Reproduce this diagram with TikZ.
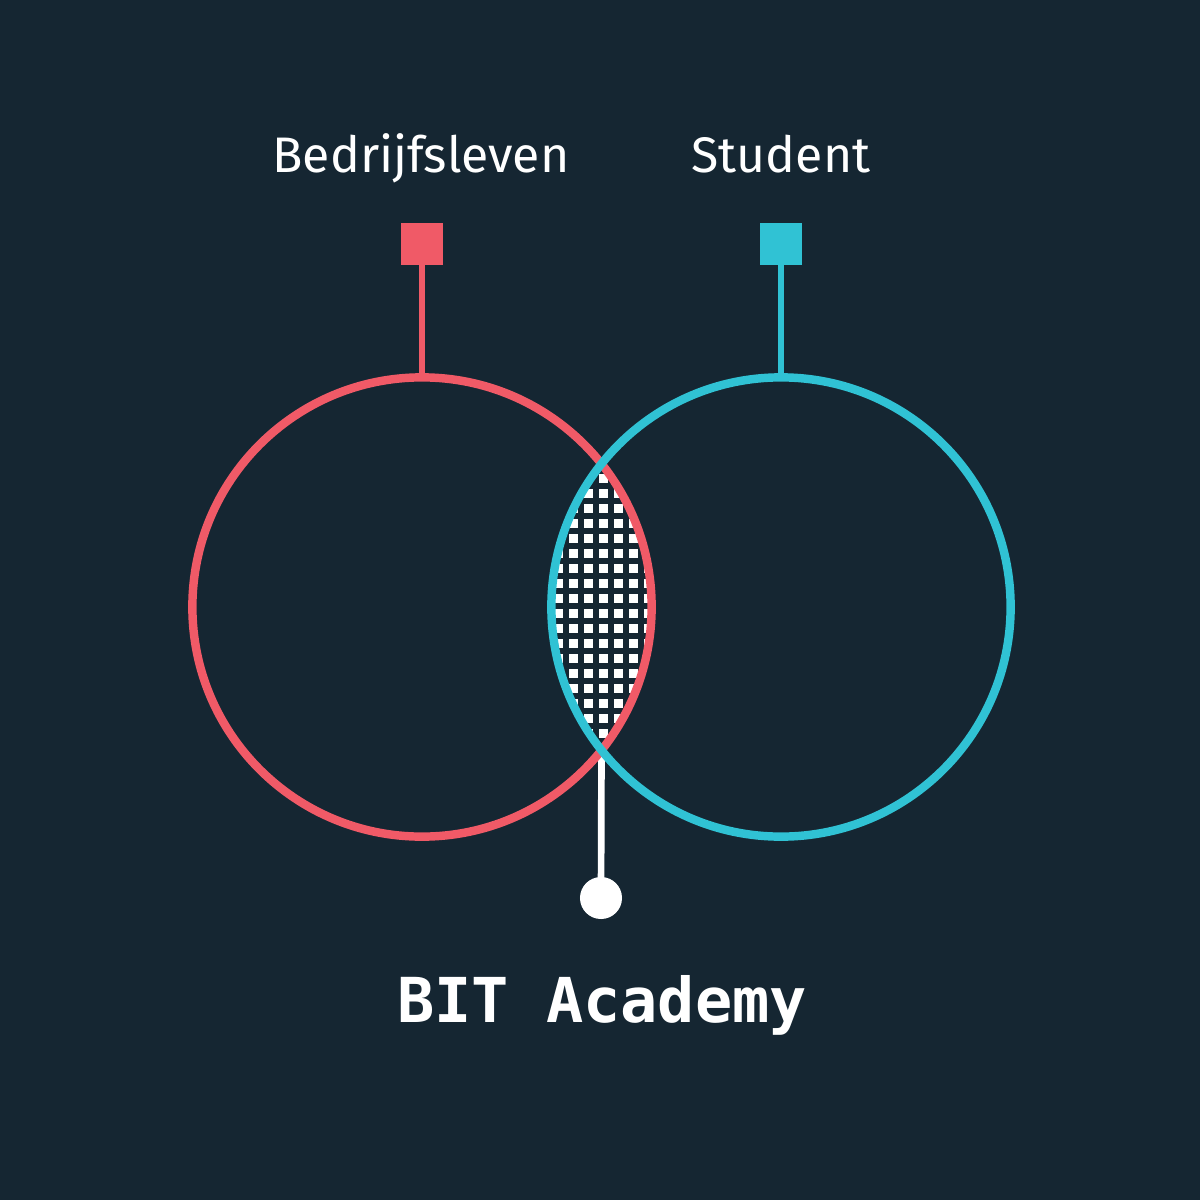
\documentclass[tikz,border=0pt]{standalone}
\usepackage{fontspec}
\setmainfont{Fira Sans}
\newfontfamily\codefont{DejaVu Sans Mono}
\usetikzlibrary{positioning}

\definecolor{navybg}{HTML}{152632}
\definecolor{bitred}{HTML}{F05A67}
\definecolor{bitcyan}{HTML}{30C2D4}

\begin{document}
\begin{tikzpicture}[
        x=0.01cm, y=-0.01cm,
        ring/.style={circle, draw, line width=2.4pt, minimum size=4.59cm, inner sep=0, outer sep=0},
        tag/.style={rectangle, minimum size=0.42cm, inner sep=0, outer sep=0},
        stem/.style={line width=1.9pt},
        every node/.style={text=white}
    ]

    % Background
    \fill[navybg] (0,0) rectangle (1200,1200);
    \useasboundingbox (0,0) rectangle (1200,1200);

    % Titles
    \node[anchor=base, font=\fontsize{14.2}{16}\selectfont] (bedrijf) at (421,172) {Bedrijfsleven};
    \node[anchor=base, font=\fontsize{14.2}{16}\selectfont] (student) at (781,172) {Student};

    % Square markers
    \node[tag, fill=bitred] (redsq) at (422,244) {};
    \node[tag, fill=bitcyan] (cyansq) at (781,244) {};

    % Circle centres and lower crossing
    \coordinate (redc) at (422,607);
    \coordinate (cyanc) at (781,607);
    \coordinate (meet) at (601.5,750);

    % Dotted overlap
    \begin{scope}
        \clip (redc) circle [radius=2.295cm];
        \clip (cyanc) circle [radius=2.295cm];
        \foreach \i in {-4,...,4}
            \foreach \j in {-11,...,11}
                \fill[white] (603.3+15*\i-4.2, 613.3+15*\j-4.2) rectangle ++(8.4,8.4);
    \end{scope}

    % Pointer down to BIT Academy
    \node[circle, fill=white, minimum size=0.42cm, inner sep=0] (dot) at (601,898) {};
    \draw[white, stem] (meet) -- (dot.center);

    % Rings
    \node[ring, draw=bitred] (redring) at (redc) {};
    \node[ring, draw=bitcyan] (cyanring) at (cyanc) {};

    % Stems
    \draw[bitred, stem] (redsq.south) -- (redring.north);
    \draw[bitcyan, stem] (cyansq.south) -- (cyanring.north);

    % Label
    \node[anchor=base, font=\codefont\bfseries\fontsize{17.6}{20}\selectfont] (bit) at (602,1022) {BIT Academy};

\end{tikzpicture}
\end{document}
